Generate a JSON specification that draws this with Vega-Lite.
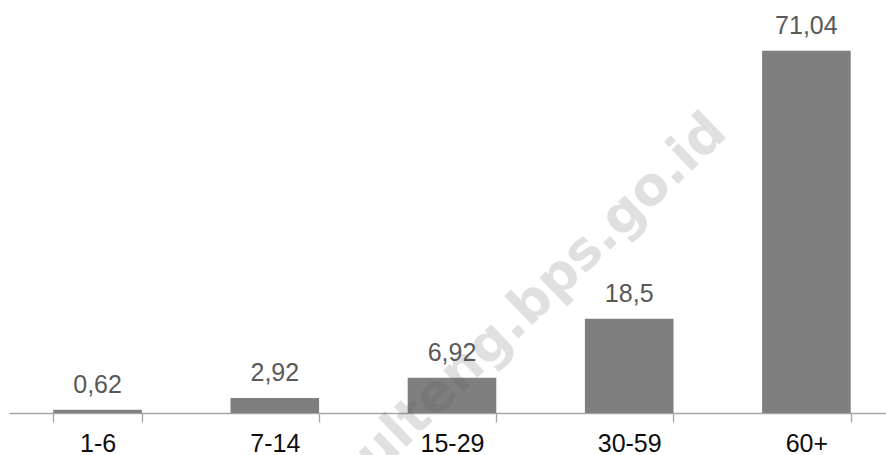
{
  "$schema": "https://vega.github.io/schema/vega-lite/v6.json",
  "autosize": {"type": "none"},
  "width": 886,
  "height": 408,
  "padding": {"left": 9, "top": 5, "right": 0, "bottom": 42},
  "datasets": {
    "umur": [
      {"kelompok": "1-6", "nilai": 0.62},
      {"kelompok": "7-14", "nilai": 2.92},
      {"kelompok": "15-29", "nilai": 6.92},
      {"kelompok": "30-59", "nilai": 18.5},
      {"kelompok": "60+", "nilai": 71.04}
    ],
    "tanda_air": [
      {"posisi": 0.588, "nilai": 21.2, "teks": "sulteng.bps.go.id"}
    ]
  },
  "resolve": {"scale": {"x": "independent"}},
  "layer": [
    {
      "data": {"name": "umur"},
      "encoding": {
        "x": {
          "field": "kelompok",
          "type": "nominal",
          "sort": null,
          "scale": {
            "domain": ["1-6", "7-14", "15-29", "30-59", "60+"],
            "paddingInner": 0.5,
            "paddingOuter": 0.25
          },
          "axis": {
            "title": null,
            "labelAngle": 0,
            "labelFont": "Liberation Sans, Arial",
            "labelFontSize": 25,
            "labelColor": "#0d0d0d",
            "labelBaseline": "alphabetic",
            "labelPadding": 29,
            "tickBand": "extent",
            "tickSize": 9,
            "tickColor": "#a6a6a6",
            "tickWidth": 1.3,
            "domainColor": "#a6a6a6",
            "domainWidth": 1.3,
            "grid": false
          }
        },
        "y": {
          "field": "nilai",
          "type": "quantitative",
          "scale": {"domain": [0, 80], "nice": false},
          "axis": null
        }
      },
      "layer": [
        {"mark": {"type": "bar", "color": "#7f7f7f"}},
        {
          "mark": {
            "type": "text",
            "baseline": "alphabetic",
            "align": "center",
            "dy": -17,
            "font": "Liberation Sans, Arial",
            "fontSize": 25,
            "color": "#595959"
          },
          "encoding": {
            "text": {"field": "nilai", "type": "quantitative", "format": ".2~f"}
          }
        }
      ]
    },
    {
      "data": {"name": "tanda_air"},
      "mark": {
        "type": "text",
        "angle": -44,
        "align": "center",
        "baseline": "middle",
        "font": "DejaVu Sans",
        "fontWeight": "bold",
        "fontSize": 53,
        "color": "#585858",
        "opacity": 0.18
      },
      "encoding": {
        "x": {
          "field": "posisi",
          "type": "quantitative",
          "scale": {"domain": [0, 1], "nice": false, "zero": false},
          "axis": null
        },
        "y": {"field": "nilai", "type": "quantitative"},
        "text": {"field": "teks", "type": "nominal"}
      }
    }
  ],
  "config": {
    "view": {"stroke": null},
    "locale": {
      "number": {
        "decimal": ",",
        "thousands": ".",
        "grouping": [3],
        "currency": ["Rp", ""]
      }
    }
  }
}
